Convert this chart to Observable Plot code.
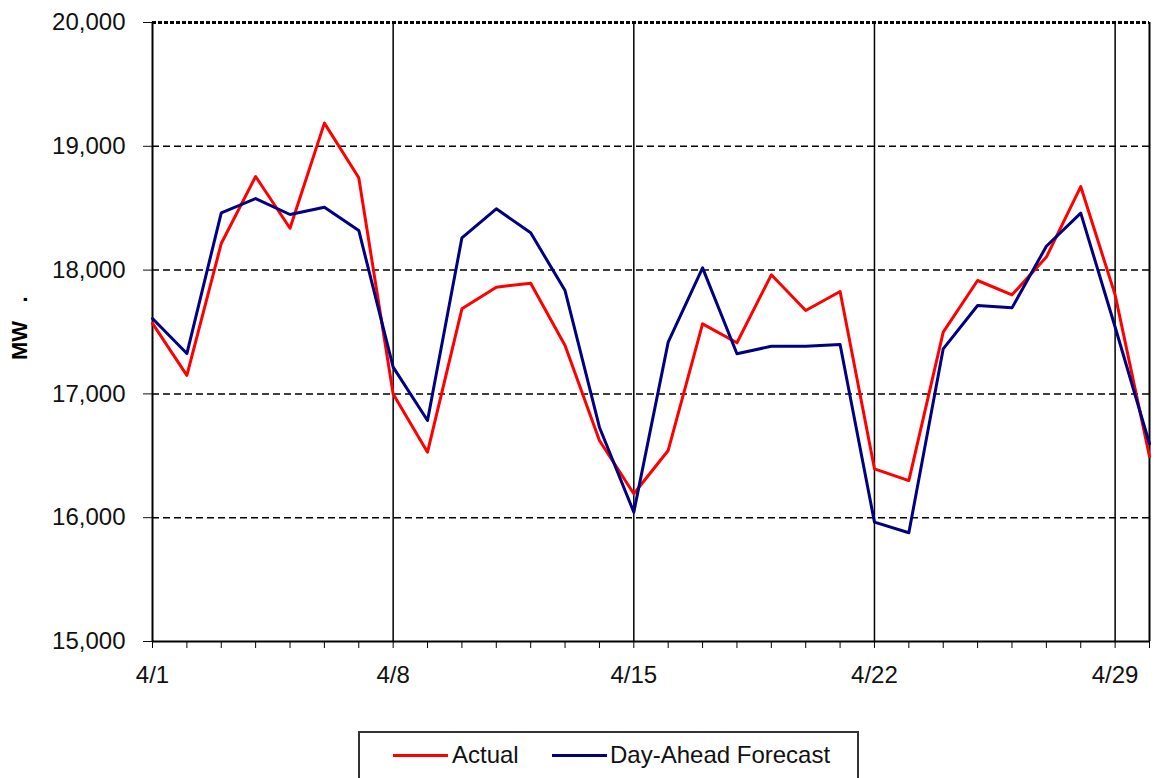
<!DOCTYPE html>
<html><head><meta charset="utf-8">
<script src="https://cdn.jsdelivr.net/npm/d3@7"></script>
<script src="https://cdn.jsdelivr.net/npm/@observablehq/plot@0.6"></script>
<style>
html,body{margin:0;padding:0;background:#fff;overflow:hidden;}
#wrap{position:relative;width:1156px;height:778px;font-family:"Liberation Sans",Arial,sans-serif;}
#legend{position:absolute;left:358px;top:731px;width:497px;height:60px;border:2px solid #333;background:#fff;}
.sw{position:absolute;top:21px;height:3px;width:55px;}
.lt{position:absolute;top:8px;font-size:24px;color:#111;line-height:28px;white-space:nowrap;}
</style></head>
<body><div id="wrap"><div id="chart"></div><div id="legend"></div></div>
<script>
const days = [1,2,3,4,5,6,7,8,9,10,11,12,13,14,15,16,17,18,19,20,21,22,23,24,25,26,27,28,29,30];
const actual = [17570,17150,18215,18756,18338,19187,18746,17000,16529,17687,17862,17894,17391,16624,16193,16543,17566,17413,17962,17674,17827,16395,16300,17499,17916,17800,18105,18675,17800,16494];
const forecast = [17609,17326,18463,18578,18449,18508,18320,17216,16785,18261,18495,18301,17835,16731,16045,17418,18018,17324,17385,17385,17399,15964,15878,17364,17714,17695,18193,18460,17540,16597];
const yTicks = [15000,16000,17000,18000,19000,20000];
const gridValues = [16000,17000,18000,19000];
const weekDays = [1,8,15,22,29];
const weekLabels = ["4/1","4/8","4/15","4/22","4/29"];
const seriesNames = ["Actual","Day-Ahead Forecast"];
const seriesColors = ["#ff0000","#000080"];
const yLabel = "MW\u00a0\u00a0\u00a0.";

const rows = days.flatMap((d,i)=>[
  {day:d, mw:actual[i], series:seriesNames[0]},
  {day:d, mw:forecast[i], series:seriesNames[1]}
]);

const font = '"Liberation Sans", Arial, sans-serif';
const chart = Plot.plot({
  width:1156, height:710,
  marginLeft:152, marginRight:7, marginTop:22, marginBottom:69,
  style:{fontFamily:font, background:"white", overflow:"visible"},
  x:{type:"linear", domain:[1,30], axis:null},
  y:{domain:[15000,20000], axis:null},
  color:{domain:seriesNames, range:seriesColors},
  marks:[
    Plot.ruleY(gridValues, {stroke:"black", strokeWidth:1.5, strokeDasharray:"7,4"}),
    Plot.ruleX(weekDays.slice(1), {stroke:"black", strokeWidth:1.5}),
    Plot.ruleX([1,30], {stroke:"black", strokeWidth:2}),
    Plot.ruleY([15000], {stroke:"black", strokeWidth:2}),
    Plot.ruleY([20000], {stroke:"black", strokeWidth:3, strokeDasharray:"4,2"}),
    Plot.axisY({ticks:yTicks, tickFormat:d3.format(","), tickSize:9, tickPadding:18, fontSize:24, color:"#111", label:null}),
    Plot.axisX({ticks:days, tickSize:7, tickFormat:()=>"", color:"black", label:null}),
    Plot.axisX({ticks:weekDays, tickSize:0, tickPadding:24, tickFormat:d=>weekLabels[weekDays.indexOf(d)], fontSize:24, color:"#111", label:null}),
    Plot.line(rows, {x:"day", y:"mw", z:"series", stroke:"series", strokeWidth:3, strokeLinejoin:"round"}),
    Plot.text([yLabel], {frameAnchor:"left", dx:-133, dy:28, rotate:-90, textAnchor:"start", fontWeight:"bold", fontSize:22, fill:"black"})
  ]
});
document.getElementById("chart").appendChild(chart);

const legend = document.getElementById("legend");
const swLeft = [33, 192], txtLeft = [92, 250];
seriesNames.forEach((name,i)=>{
  const sw = document.createElement("div");
  sw.className = "sw"; sw.style.left = swLeft[i]+"px"; sw.style.background = seriesColors[i];
  legend.appendChild(sw);
  const t = document.createElement("div");
  t.className = "lt"; t.style.left = txtLeft[i]+"px"; t.textContent = name;
  legend.appendChild(t);
});
</script>
</body></html>
